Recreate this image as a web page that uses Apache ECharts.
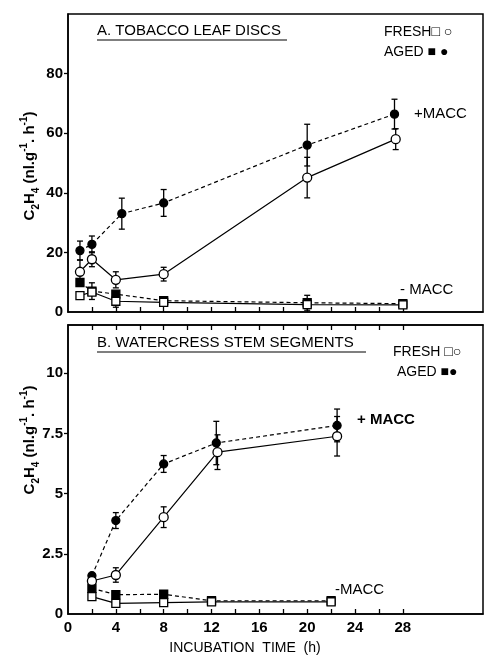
<!DOCTYPE html>
<html>
<head>
<meta charset="utf-8">
<script src="https://cdn.jsdelivr.net/npm/echarts@6/dist/echarts.min.js"></script>
<style>
html,body{margin:0;padding:0;background:#fff;}
#chart{width:484px;height:656px;}
</style>
</head>
<body>
<div id="chart"></div>
<script>
// ---- Panel A: tobacco leaf discs ----
const aTimeFreshPlus = [1, 2, 4, 8, 20, 27.4];
const aFreshPlus     = [13.5, 17.7, 10.8, 12.7, 45.1, 58.0];
const aFreshPlusErr  = [4.0, 2.5, 2.7, 2.3, 6.8, 3.5];
const aTimeAgedPlus  = [1, 2, 4.5, 8, 20, 27.3];
const aAgedPlus      = [20.6, 22.7, 33.0, 36.6, 56.0, 66.4];
const aAgedPlusErr   = [3.2, 2.8, 5.2, 4.5, 7.0, 5.0];
const aTimeMinus     = [1, 2, 4, 8, 20, 28];
const aFreshMinus    = [5.5, 6.7, 3.6, 3.2, 2.5, 2.4];
const aFreshMinusErr = [0, 0, 2.0, 0, 0, 0];
const aAgedMinus     = [9.9, 7.0, 6.0, 3.8, 3.1, 2.8];
const aAgedMinusErr  = [0, 2.8, 0, 0, 2.5, 0];

// ---- Panel B: watercress stem segments ----
const bTimeFreshPlus = [2, 4, 8, 12.5, 22.5];
const bFreshPlus     = [1.37, 1.62, 4.02, 6.72, 7.38];
const bFreshPlusErr  = [0, 0.3, 0.43, 0.72, 0.82];
const bTimeAgedPlus  = [2, 4, 8, 12.4, 22.5];
const bAgedPlus      = [1.59, 3.88, 6.23, 7.10, 7.83];
const bAgedPlusErr   = [0, 0.33, 0.35, 0.9, 0.68];
const bTimeMinus     = [2, 4, 8, 12, 22];
const bFreshMinus    = [0.72, 0.44, 0.47, 0.5, 0.5];
const bAgedMinus     = [1.07, 0.8, 0.82, 0.55, 0.55];

// ---- ticks ----
const xMinorTicks  = [2, 4, 6, 8, 10, 12, 14, 16, 18, 20, 22, 24, 26, 28];
const xTickLabels  = [0, 4, 8, 12, 16, 20, 24, 28];
const yTickLabelsA = [0, 20, 40, 60, 80];
const yTickLabelsB = [0, 2.5, 5, 7.5, 10];

const FONT = 'Liberation Sans';
const BLACK = '#000';

function pairs(xs, ys) { return xs.map((x, i) => [x, ys[i]]); }
function triples(xs, ys, es) {
  return xs.map((x, i) => [x, ys[i], es[i]]).filter(d => d[2] > 0);
}

function lineSeries(gi, xs, ys, opts) {
  return {
    type: 'line',
    xAxisIndex: gi, yAxisIndex: gi,
    data: pairs(xs, ys),
    symbol: opts.symbol,
    symbolSize: opts.size,
    showSymbol: true,
    lineStyle: { color: BLACK, width: 1.2, type: opts.dash ? [4, 3] : 'solid' },
    itemStyle: { color: opts.filled ? BLACK : '#fff', borderColor: BLACK, borderWidth: 1.3 },
    z: 3,
    emphasis: { disabled: true },
    silent: true
  };
}

function errSeries(gi, xs, ys, es) {
  return {
    type: 'custom',
    xAxisIndex: gi, yAxisIndex: gi,
    data: triples(xs, ys, es),
    encode: { x: 0, y: 1 },
    z: 2,
    silent: true,
    renderItem: function (params, api) {
      const x = api.value(0), y = api.value(1), e = api.value(2);
      const hi = api.coord([x, y + e]);
      const lo = api.coord([x, y - e]);
      const w = 3;
      const st = { stroke: BLACK, lineWidth: 1.3 };
      return {
        type: 'group',
        children: [
          { type: 'line', shape: { x1: hi[0], y1: hi[1], x2: lo[0], y2: lo[1] }, style: st },
          { type: 'line', shape: { x1: hi[0] - w, y1: hi[1], x2: hi[0] + w, y2: hi[1] }, style: st },
          { type: 'line', shape: { x1: lo[0] - w, y1: lo[1], x2: lo[0] + w, y2: lo[1] }, style: st }
        ]
      };
    }
  };
}

const axisLineStyle = { show: true, lineStyle: { color: BLACK, width: 1.5 } };

function xAxisDef(gi, showLabels, position) {
  return {
    type: 'value', gridIndex: gi, min: 0, max: 34.7, interval: 2,
    position: position || 'bottom',
    axisLine: axisLineStyle,
    splitLine: { show: false },
    axisTick: { show: true, inside: true, length: 5, customValues: xMinorTicks, lineStyle: { color: BLACK, width: 1.3 } },
    axisLabel: showLabels ? {
      show: true, customValues: xTickLabels, color: BLACK,
      fontFamily: FONT, fontSize: 15, fontWeight: 'bold', margin: 6
    } : { show: false }
  };
}

function yAxisDef(gi, max, labels) {
  return {
    type: 'value', gridIndex: gi, min: 0, max: max,
    axisLine: axisLineStyle,
    splitLine: { show: false },
    axisTick: { show: true, inside: false, length: 4, customValues: labels.filter(v => v > 0), lineStyle: { color: BLACK, width: 1.3 } },
    axisLabel: {
      show: true, customValues: labels, color: BLACK,
      fontFamily: FONT, fontSize: 15, fontWeight: 'bold', margin: 5
    }
  };
}

const yNameRich = '{n|C}{s|2}{n|H}{s|4}{n| (nl.g}{p|-1}{n|. h}{p|-1}{n|)}';
const yRich = {
  n: { fontFamily: FONT, fontSize: 15, fontWeight: 'bold', lineHeight: 22, verticalAlign: 'middle', fill: BLACK },
  s: { fontFamily: FONT, fontSize: 10, fontWeight: 'bold', lineHeight: 10, verticalAlign: 'bottom', fill: BLACK },
  p: { fontFamily: FONT, fontSize: 10, fontWeight: 'bold', lineHeight: 10, verticalAlign: 'top', fill: BLACK }
};

const option = {
  animation: false,
  backgroundColor: '#fff',
  grid: [
    { left: 68, top: 14, width: 415, height: 298, show: true, borderColor: BLACK, borderWidth: 1.5 },
    { left: 68, top: 325, width: 415, height: 289, show: true, borderColor: BLACK, borderWidth: 1.5 }
  ],
  xAxis: [
    xAxisDef(0, false),
    xAxisDef(1, true),
    xAxisDef(1, false, 'top')
  ],
  yAxis: [
    yAxisDef(0, 100, yTickLabelsA),
    yAxisDef(1, 12, yTickLabelsB)
  ],
  series: [
    errSeries(0, aTimeFreshPlus, aFreshPlus, aFreshPlusErr),
    errSeries(0, aTimeAgedPlus, aAgedPlus, aAgedPlusErr),
    errSeries(0, aTimeMinus, aFreshMinus, aFreshMinusErr),
    errSeries(0, aTimeMinus, aAgedMinus, aAgedMinusErr),
    lineSeries(0, aTimeMinus, aAgedMinus, { symbol: 'rect', size: 8, filled: true, dash: true }),
    lineSeries(0, aTimeMinus, aFreshMinus, { symbol: 'rect', size: 8, filled: false, dash: false }),
    lineSeries(0, aTimeAgedPlus, aAgedPlus, { symbol: 'circle', size: 8, filled: true, dash: true }),
    lineSeries(0, aTimeFreshPlus, aFreshPlus, { symbol: 'circle', size: 9, filled: false, dash: false }),

    errSeries(1, bTimeFreshPlus, bFreshPlus, bFreshPlusErr),
    errSeries(1, bTimeAgedPlus, bAgedPlus, bAgedPlusErr),
    lineSeries(1, bTimeMinus, bAgedMinus, { symbol: 'rect', size: 8, filled: true, dash: true }),
    lineSeries(1, bTimeMinus, bFreshMinus, { symbol: 'rect', size: 8, filled: false, dash: false }),
    lineSeries(1, bTimeAgedPlus, bAgedPlus, { symbol: 'circle', size: 8, filled: true, dash: true }),
    lineSeries(1, bTimeFreshPlus, bFreshPlus, { symbol: 'circle', size: 9, filled: false, dash: false })
  ],
  graphic: [
    // panel titles with underline
    { type: 'text', left: 97, top: 23, style: { text: 'A. TOBACCO LEAF DISCS', font: '15px ' + FONT, fill: BLACK } },
    { type: 'line', shape: { x1: 97, y1: 40, x2: 287, y2: 40 }, style: { stroke: BLACK, lineWidth: 1.2 } },
    { type: 'text', left: 97, top: 335, style: { text: 'B. WATERCRESS STEM SEGMENTS', font: '15px ' + FONT, fill: BLACK } },
    { type: 'line', shape: { x1: 97, y1: 352, x2: 366, y2: 352 }, style: { stroke: BLACK, lineWidth: 1.2 } },
    // legends
    { type: 'text', left: 384, top: 25, style: { text: 'FRESH\u25A1 \u25CB', font: '14px ' + FONT, fill: BLACK } },
    { type: 'text', left: 384, top: 45, style: { text: 'AGED \u25A0 \u25CF', font: '14px ' + FONT, fill: BLACK } },
    { type: 'text', left: 393, top: 345, style: { text: 'FRESH \u25A1\u25CB', font: '14px ' + FONT, fill: BLACK } },
    { type: 'text', left: 397, top: 365, style: { text: 'AGED \u25A0\u25CF', font: '14px ' + FONT, fill: BLACK } },
    // annotations
    { type: 'text', left: 414, top: 106, style: { text: '+MACC', font: '15px ' + FONT, fill: BLACK } },
    { type: 'text', left: 400, top: 282, style: { text: '- MACC', font: '15px ' + FONT, fill: BLACK } },
    { type: 'text', left: 357, top: 412, style: { text: '+ MACC', font: 'bold 15px ' + FONT, fill: BLACK } },
    { type: 'text', left: 335, top: 582, style: { text: '-MACC', font: '15px ' + FONT, fill: BLACK } },
    // axis titles
    { type: 'text', x: 30, y: 166, rotation: Math.PI / 2,
      style: { text: yNameRich, rich: yRich, align: 'center', verticalAlign: 'middle' } },
    { type: 'text', x: 30, y: 440, rotation: Math.PI / 2,
      style: { text: yNameRich, rich: yRich, align: 'center', verticalAlign: 'middle' } },
    { type: 'text', x: 245, y: 648,
      style: { text: 'INCUBATION  TIME  (h)', font: '14px ' + FONT, fill: BLACK, align: 'center', verticalAlign: 'middle' } }
  ]
};

const chart = echarts.init(document.getElementById('chart'), null, { renderer: 'canvas' });
chart.setOption(option);
</script>
</body>
</html>
